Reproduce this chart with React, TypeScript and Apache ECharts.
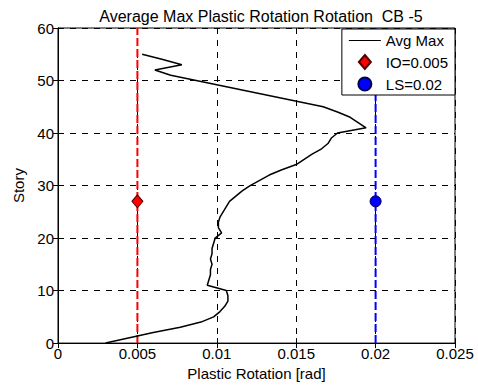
import React, { useEffect, useRef } from "react";
import * as echarts from "echarts";

const stories = [0,1,2,3,4,5,6,7,8,9,10,11,12,13,14,15,16,17,18,19,20,21,22,23,24,25,26,27,28,29,30,31,32,33,34,35,36,37,38,39,40,41,42,43,44,45,46,47,48,49,50,51,52,53,54,55];
const avgMax = [0.0030,0.0045,0.0060,0.0077,0.0090,0.0098,0.0102,0.0105,0.0107,0.0107,0.0106,0.0094,0.0095,0.0096,0.0096,0.0097,0.0096,0.0097,0.0097,0.0098,0.0099,0.0103,0.0101,0.0101,0.0102,0.0104,0.0106,0.0108,0.0112,0.0116,0.0121,0.0127,0.0133,0.0141,0.0150,0.0155,0.0160,0.0166,0.0170,0.0172,0.0176,0.0194,0.0189,0.0184,0.0176,0.0167,0.0151,0.0135,0.0119,0.0103,0.0087,0.0071,0.0061,0.0078,0.0066,0.0053];
const ioValue = 0.005;
const lsValue = 0.02;
const markerStory = 27;
const storyRange = [0, 60];

export default function App() {
  const ref = useRef<HTMLDivElement>(null);
  useEffect(() => {
    const chart = echarts.init(ref.current!, null, { renderer: "svg" });
    const font = "Liberation Sans, Arial, sans-serif";
    const dash = { type: [6, 6] as any, color: "#000", width: 1 };
    chart.setOption({
      animation: false,
      backgroundColor: "#fff",
      textStyle: { fontFamily: font },
      title: {
        text: "Average Max Plastic Rotation Rotation  CB -5",
        left: 256, top: 3, textAlign: "center",
        textStyle: { fontSize: 16, fontWeight: "normal", color: "#000", fontFamily: font },
      },
      grid: { left: 58, right: 23, top: 28, bottom: 42, show: true, borderColor: "#000", borderWidth: 1 },
      legend: {
        orient: "vertical", right: 23, top: 29,
        backgroundColor: "#fff", borderColor: "#000", borderWidth: 1,
        padding: [4, 7, 3, 6], itemGap: 6, itemWidth: 32, itemHeight: 14,
        textStyle: { fontSize: 15, lineHeight: 14, color: "#000", fontFamily: font },
        data: [
          { name: "Avg Max", icon: "path://M0,0 L0,0 M32,14 L32,14 M0,6.4 L32,6.4 L32,7.6 L0,7.6 Z" },
          { name: "IO=0.005", icon: "path://M0,0 L0,0 M32,14 L32,14 M16,0 L22,7 L16,14 L10,7 Z" },
          { name: "LS=0.02", icon: "path://M0,0 L0,0 M32,14 L32,14 M9.5,7 A6.5,6.5 0 1 0 22.5,7 A6.5,6.5 0 1 0 9.5,7 Z" },
        ],
      },
      xAxis: [
        {
          type: "value", min: 0, max: 0.025, interval: 0.005,
          name: "Plastic Rotation [rad]", nameLocation: "middle", nameGap: 19,
          nameTextStyle: { fontSize: 15, color: "#000", fontFamily: font },
          axisLine: { lineStyle: { color: "#000" } },
          axisTick: { inside: true, length: 5, lineStyle: { color: "#000" } },
          axisLabel: { fontSize: 15, color: "#000", margin: 3, formatter: (v: number) => String(parseFloat(v.toFixed(4))) },
          splitLine: { show: true, lineStyle: dash },
        },
        {
          type: "value", min: 0, max: 0.025, interval: 0.005, position: "top",
          axisLine: { lineStyle: { color: "#000" } },
          axisTick: { inside: true, length: 5, lineStyle: { color: "#000" } },
          axisLabel: { show: false }, splitLine: { show: false },
        },
      ],
      yAxis: [
        {
          type: "value", min: 0, max: 60, interval: 10,
          name: "Story", nameLocation: "middle", nameGap: 30,
          nameTextStyle: { fontSize: 15, color: "#000", fontFamily: font },
          axisLine: { lineStyle: { color: "#000" } },
          axisTick: { inside: true, length: 5, lineStyle: { color: "#000" } },
          axisLabel: { fontSize: 15, color: "#000", margin: 4 },
          splitLine: { show: true, lineStyle: dash },
        },
        {
          type: "value", min: 0, max: 60, interval: 10, position: "right",
          axisLine: { lineStyle: { color: "#000" } },
          axisTick: { inside: true, length: 5, lineStyle: { color: "#000" } },
          axisLabel: { show: false }, splitLine: { show: false },
        },
      ],
      series: [
        {
          name: "IO line", type: "line", symbol: "none",
          lineStyle: { color: "#ff0000", width: 2, type: [8, 3] as any },
          data: storyRange.map((s) => [ioValue, s]), z: 3,
        },
        {
          name: "LS line", type: "line", symbol: "none",
          lineStyle: { color: "#0000ff", width: 2, type: [8, 3] as any },
          data: storyRange.map((s) => [lsValue, s]), z: 3,
        },
        {
          name: "IO=0.005", type: "scatter", symbol: "diamond", symbolSize: [11, 13],
          itemStyle: { color: "#ff0000", borderColor: "#500000", borderWidth: 1, opacity: 1 },
          data: [[ioValue, markerStory]], z: 5,
        },
        {
          name: "LS=0.02", type: "scatter", symbol: "circle", symbolSize: 11,
          itemStyle: { color: "#0000ff", borderColor: "#000050", borderWidth: 1, opacity: 1 },
          data: [[lsValue, markerStory]], z: 5,
        },
        {
          name: "Avg Max", type: "line", symbol: "none",
          lineStyle: { color: "#000", width: 1.5 },
          itemStyle: { color: "#000" },
          data: stories.map((s, i) => [avgMax[i], s]), z: 4,
        },
      ],
    });
    return () => chart.dispose();
  }, []);
  return <div ref={ref} style={{ width: 478, height: 386, position: "absolute", left: 0, top: 0 }} />;
}
